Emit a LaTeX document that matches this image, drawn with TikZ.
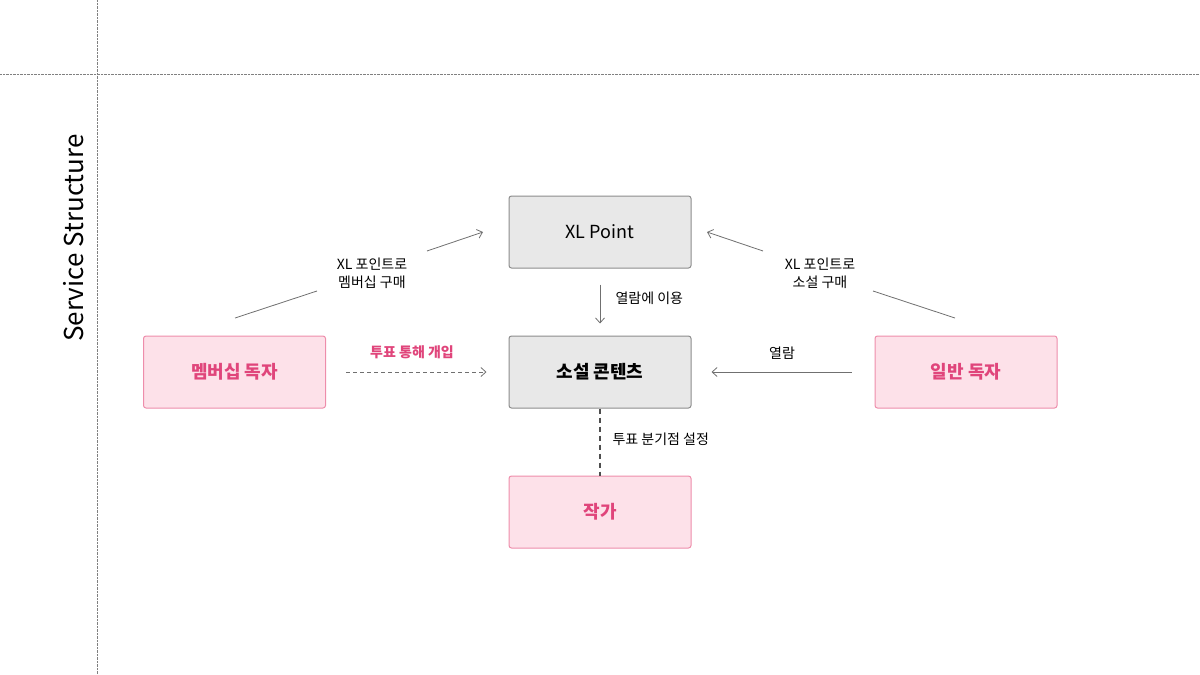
\documentclass[tikz,border=0pt]{standalone}
\usepackage{fontspec}
\setmainfont{Noto Sans CJK KR}
\usetikzlibrary{positioning, arrows.meta}
\definecolor{pinkfill}{HTML}{FDE1E9}
\definecolor{pinkline}{HTML}{EE8DAB}
\definecolor{pinktext}{HTML}{E0457B}
\definecolor{grayfill}{HTML}{E8E8E8}
\definecolor{grayline}{HTML}{8C8C8C}
\definecolor{arrowgray}{HTML}{707070}

\begin{document}
\begin{tikzpicture}[
    x=1pt, y=-1pt,
    box/.style={draw, line width=1pt, rounded corners=2.5pt, minimum width=182pt, minimum height=72pt, inner sep=0pt, font=\fontsize{18}{21}\selectfont},
    graybox/.style={box, fill=grayfill, draw=grayline, text=black},
    pinkbox/.style={box, fill=pinkfill, draw=pinkline, text=pinktext},
    lbl/.style={font=\fontsize{14}{18}\selectfont, align=center, text=black},
    conn/.style={draw=arrowgray, line width=0.8pt},
    tip/.style={-{Straight Barb[length=5pt, width=9pt]}}
]
   \useasboundingbox (0,0) rectangle (1200,675);

   % frame
   \draw[densely dotted, gray] (97,0) -- (97,675);
   \draw[densely dotted, gray] (0,74) -- (1200,74);
   \node[rotate=90, font=\fontsize{26}{30}\selectfont] (title) at (74,238) {Service Structure};

   % Boxes
   \node[graybox] (point) at (600,232) {XL Point};
   \node[graybox, font=\fontsize{18}{21}\selectfont\bfseries] (novel) at (600,372) {소설 콘텐츠};
   \node[pinkbox, font=\fontsize{18}{21}\selectfont\bfseries] (writer) at (600,512) {작가};
   \node[pinkbox, font=\fontsize{18}{21}\selectfont\bfseries] (member) at (234.5,372) {멤버십 독자};
   \node[pinkbox, font=\fontsize{18}{21}\selectfont\bfseries] (reader) at (966,372) {일반 독자};

   % Labels
   \node[lbl] (buyM) at (372,273) {XL 포인트로\\멤버십 구매};
   \node[lbl] (buyN) at (820,273) {XL 포인트로\\소설 구매};
   \node[lbl, anchor=west] (use) at (612,298) {열람에 이용};
   \node[lbl, anchor=west] (branch) at (609,439) {투표 분기점 설정};
   \node[lbl, text=pinktext, font=\fontsize{14}{18}\selectfont\bfseries] (vote) at (412,352) {투표 통해 개입};
   \node[lbl] (read) at (782,353) {열람};

   % Transitions
   \coordinate (m1) at (235,318);
   \coordinate (m2) at (317,291);
   \coordinate (m3) at (427,251);
   \coordinate (m4) at (483,232);
   \coordinate (r1) at (955,318);
   \coordinate (r2) at (873,291);
   \coordinate (r3) at (763,251);
   \coordinate (r4) at (707,232);
   \draw[conn] (m1) -- (m2);
   \draw[conn, tip] (m3) -- (m4);
   \draw[conn] (r1) -- (r2);
   \draw[conn, tip] (r3) -- (r4);
   \draw[conn, tip, shorten <=16pt, shorten >=12pt] (point) -- (novel);
   \draw[conn, tip, dashed, dash pattern=on 4pt off 3pt, shorten <=20pt, shorten >=22pt] (member) -- (novel);
   \draw[conn, tip, shorten <=23pt, shorten >=20pt] (reader) -- (novel);
   \draw[conn, dash pattern=on 5pt off 4pt, line width=2pt, draw=arrowgray!70!black] (novel) -- (writer);
\end{tikzpicture}
\end{document}
